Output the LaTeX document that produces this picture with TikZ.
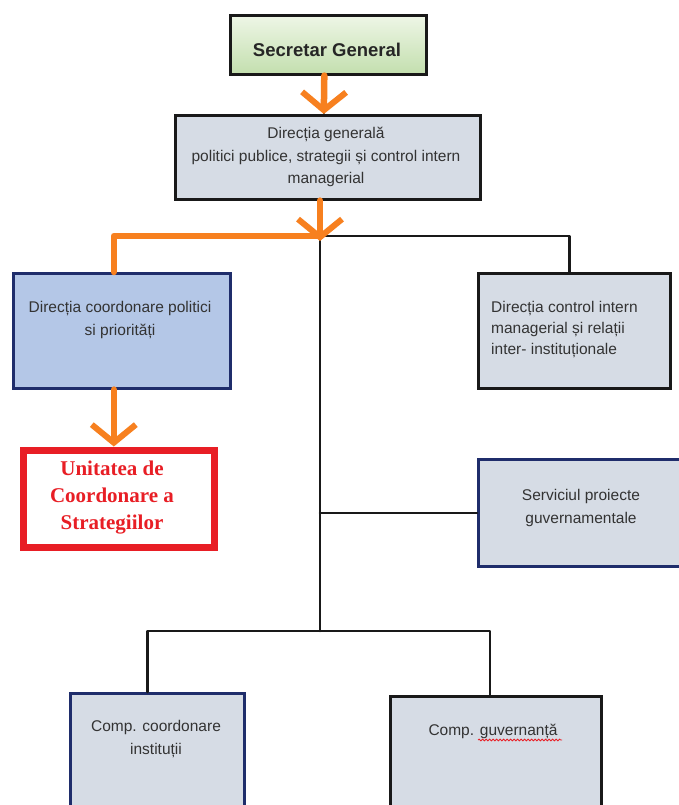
\documentclass[tikz,border=0pt]{standalone}
\usepackage{fontspec}
\setmainfont{Liberation Sans}
\newfontfamily\redserif{Liberation Serif}
\usetikzlibrary{arrows.meta,decorations.pathmorphing}
\definecolor{boxgray}{HTML}{D6DCE5}
\definecolor{boxblue}{HTML}{B4C7E7}
\definecolor{navy}{HTML}{1F2D6B}
\definecolor{orng}{HTML}{F7801F}
\definecolor{redbox}{HTML}{E81E25}
\definecolor{txt}{HTML}{333333}
\definecolor{sgtop}{HTML}{EEF6E6}
\definecolor{sgbot}{HTML}{C3DFAE}
\tikzset{
  box/.style={draw, line width=2.6pt, anchor=north west, inner sep=0pt},
  blackbox/.style={box, draw=black!90, fill=boxgray},
  navybox/.style={box, draw=navy, fill=boxgray},
  lbl/.style={text=txt, font=\fontsize{15.5}{22.5}\selectfont, align=center, inner sep=0pt},
  blk/.style={draw=black!90, line width=2.6pt, line cap=round, line join=round},
  orl/.style={draw=orng, line width=6.5pt, line cap=round, line join=round},
  orarrow/.style={orl, -{Straight Barb[length=18pt, width=44pt, line width=6pt]}},
}
\begin{document}
\begin{tikzpicture}[x=1pt, y=-1pt]
\clip (0,0) rectangle (679,805);
\fill[white] (0,0) rectangle (679,805);

% boxes
\node[box, draw=black!90, top color=sgtop, bottom color=sgbot, minimum width=196pt, minimum height=59pt] (sg) at (229,14) {};
\node[blackbox, minimum width=305pt, minimum height=84pt] (dg) at (174,114) {};
\node[navybox, fill=boxblue, minimum width=217pt, minimum height=115pt] (ldir) at (12,272) {};
\node[blackbox, minimum width=192pt, minimum height=115pt] (rdir) at (477,272) {};
\node[box, draw=redbox, fill=white, line width=7pt, minimum width=191pt, minimum height=97pt] (ucs) at (19.5,446.5) {};
\node[navybox, minimum width=230pt, minimum height=107pt] (serv) at (477,458) {};
\node[navybox, minimum width=174pt, minimum height=140pt] (cci) at (69,692) {};
\node[blackbox, minimum width=211pt, minimum height=140pt] (cgv) at (389,695) {};

% texts
\node[lbl, font=\bfseries\fontsize{18.5}{22}\selectfont, text=black!85] (tsg) at (327,50) {Secretar General};
\node[lbl] (tdg) at (326,157) {Direcția generală\\politici publice, strategii și control intern\\managerial};
\node[lbl] (tldir) at (120,320) {Direcția coordonare politici\\si priorități};
\node[lbl, align=left, font=\fontsize{15.5}{21}\selectfont, anchor=west] (trdir) at (491,330) {Direcția control intern\\managerial și relații\\inter- instituționale};
\node[lbl, text=redbox, font=\redserif\bfseries\fontsize{21}{27}\selectfont] (tucs) at (112,498) {Unitatea de\\Coordonare a\\Strategiilor};
\node[lbl] (tserv) at (581,508) {Serviciul proiecte\\guvernamentale};
\node[lbl] (tcci) at (156,739) {Comp. coordonare\\instituții};
\node[lbl] (tcgv) at (493,731) {Comp. guvernanță};
\draw[redbox, line width=0.8pt, decorate, decoration={snake, amplitude=0.9pt, segment length=3.5pt}] (478,740) -- (562,740);

% junctions
\coordinate (j1) at (320,236);
\coordinate (j1tip) at (320,241);
\coordinate (j2) at (320,631);

% black connectors
\draw[blk, line width=1.5pt] ([xshift=-4pt]sg.south) -- ([xshift=-4pt]dg.north);
\draw[blk] (j1) -- (j2);
\draw[blk] (j1) -| ([xshift=-5pt]rdir.north);
\draw[blk] (serv.west -| j1) -- (serv.west);
\draw[blk] ([xshift=-10pt]cci.north) |- (j2) -| ([xshift=-6pt]cgv.north);

% orange connectors
\draw[orarrow] ([xshift=-4pt]sg.south) -- ([xshift=-4pt]dg.north);
\draw[orl] (j1) -| ([xshift=-8pt]ldir.north);
\draw[orarrow] (dg.south -| j1) -- (j1tip);
\draw[orarrow] ([xshift=-8pt]ldir.south) -- ([xshift=-8pt]ldir.south |- ucs.north);
\end{tikzpicture}
\end{document}
